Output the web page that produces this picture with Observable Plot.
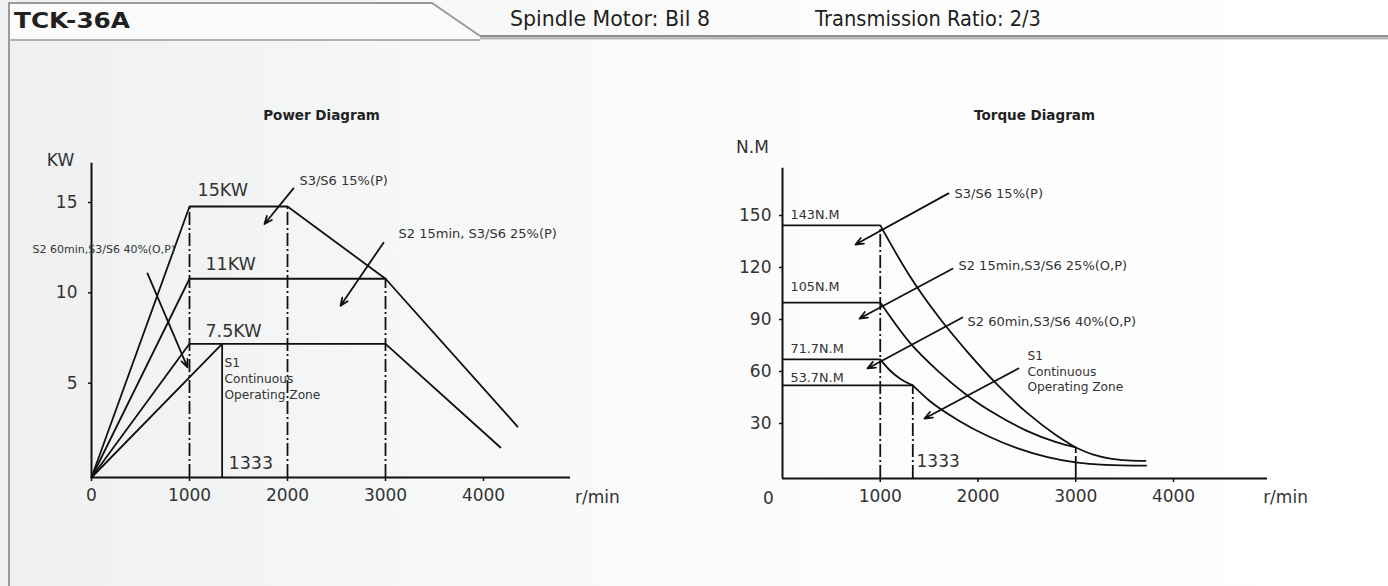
<!DOCTYPE html>
<html><head><meta charset="utf-8">
<script src="https://cdn.jsdelivr.net/npm/d3@7"></script>
<script src="https://cdn.jsdelivr.net/npm/@observablehq/plot@0.6"></script>
<style>
html,body{margin:0;padding:0;}
body{width:1388px;height:586px;overflow:hidden;position:relative;
 background:linear-gradient(90deg,#eef0f1 0%,#f6f7f7 30%,#fcfcfc 60%,#fff 100%);
 font-family:"DejaVu Sans",Verdana,sans-serif;}
#header{position:absolute;left:0;top:0;}
#power{position:absolute;left:0;top:0;}
#torque{position:absolute;left:694px;top:0;}
</style></head><body>
<svg id="header" width="1388" height="586">
  <polygon points="9,3 432,3 480,37 480,40 9,40" fill="#fbfbfb"/>
  <path d="M9,586 V3 H432 L480,36" fill="none" stroke="#9a9a9a" stroke-width="2"/>
  <rect x="480" y="35" width="908" height="2.5" fill="#8f8f8f"/>
  <rect x="480" y="37.5" width="908" height="2" fill="#b8b8b8"/>
  <line x1="9" y1="40" x2="480" y2="40" stroke="#b0b0b0" stroke-width="2"/>
  <text id="hTitle" x="14" y="28" font-size="22" font-weight="bold" fill="#231f20" textLength="116" lengthAdjust="spacingAndGlyphs"></text>
  <text id="hMotor" x="510" y="26" font-size="21" fill="#231f20" textLength="200" lengthAdjust="spacingAndGlyphs"></text>
  <text id="hRatio" x="815" y="26" font-size="21" fill="#231f20" textLength="226" lengthAdjust="spacingAndGlyphs"></text>
</svg>
<div id="power"></div>
<div id="torque"></div>
<script>
// ---------- header texts ----------
const modelName = "TCK-36A";
const motorText = "Spindle Motor: Bil 8";
const ratioText = "Transmission Ratio: 2/3";

// ---------- Power diagram data (rpm, kW) ----------
const powerTitle = "Power Diagram";
const pS3Rpm  = [0, 1000, 2000, 3000, 4347];
const pS3Kw   = [0, 15, 15, 11, 2.82];
const pS2aRpm = [0, 1000, 3000];
const pS2aKw  = [0, 11, 11];
const pS2bRpm = [0, 1000, 3000, 4173];
const pS2bKw  = [0, 7.4, 7.4, 1.66];
const pS1Rpm  = [0, 1333];
const pS1Kw   = [0, 7.4];
const pDashRpm = [1000, 2000, 3000];
const pDashTop = [15, 15, 11];
const pSolidRpm = [1333];
const pSolidTop = [7.4];
const pXTicks = [0, 1000, 2000, 3000, 4000];
const pYTicks = [5, 10, 15];

// ---------- Torque diagram data (rpm, N.m) ----------
const torqueTitle = "Torque Diagram";
const tFlatEnd = [1000, 1000, 1000, 1333];
const tFlatVal = [146, 101.5, 68.7, 53.7];
const tS3Rpm  = [1000, 1300, 1600, 1900, 2200, 2500, 2800, 3000];
const tS3Nm   = [146, 117, 93, 72.5, 54, 38, 25, 17.9];
const tTailRpm = [3000, 3180, 3355, 3530, 3714];
const tTailNm  = [17.9, 13.8, 11.5, 10.5, 10.2];
const tS2aRpm = [1000, 1300, 1600, 1900, 2200, 2500, 2800, 3000];
const tS2aNm  = [101.5, 78.5, 61.5, 47.5, 36.5, 27.5, 21, 17.9];
const tS2bRpm = [1000, 1100, 1200, 1333];
const tS2bNm  = [68.7, 62.3, 57.7, 53.7];
const tS1Rpm  = [1333, 1500, 1800, 2100, 2400, 2700, 3000, 3300, 3720];
const tS1Nm   = [53.7, 45, 33.5, 24.5, 17.5, 12.5, 9.3, 7.9, 7.4];
const tDashRpm = [1000, 1333];
const tDashTop = [146, 53.7];
const tLongRpm = [3000];
const tLongTop = [17.9];
const tXTicks = [1000, 2000, 3000, 4000];
const tYTicks = [30, 60, 90, 120, 150];

// ---------- annotation texts ----------
const pBigLabels = ["15KW", "11KW", "7.5KW", "1333"];
const pNotes = ["S3/S6 15%(P)", "S2 15min, S3/S6 25%(P)", "S2 60min,S3/S6 40%(O,P)"];
const s1Note = "S1\nContinuous\nOperating Zone";
const tValueLabels = ["143N.M", "105N.M", "71.7N.M", "53.7N.M"];
const tNotes = ["S3/S6 15%(P)", "S2 15min,S3/S6 25%(O,P)", "S2 60min,S3/S6 40%(O,P)"];

document.getElementById("hTitle").textContent = modelName;
document.getElementById("hMotor").textContent = motorText;
document.getElementById("hRatio").textContent = ratioText;

// ---------- helpers ----------
const rows = (name, xs, ys) => xs.map((x, i) => ({s: name, x, y: ys[i]}));
const INK = "#111";
const TXT = "#333";
const lw = 1.8;
const dashDot = "13,3,2,3";
const fmt = d => String(d);

// annotation anchor positions (data coordinates)
const pLabelPos = [[1082, 15.9], [1163, 11.8], [1163, 8.08], [1398, 0.77]];
const pNotePos = [[2122, 16.4], [3133, 13.5], [-602, 12.6]];
const pArrows = [
  {x1: 2061, y1: 16.0, x2: 1765, y2: 14.03},
  {x1: 2980, y1: 13.0, x2: 2541, y2: 9.5},
  {x1: 571, y1: 11.3, x2: 980, y2: 6.1}
];
const tLabelPos = [[82, 152], [82, 110.8], [82, 75], [82, 58.3]];
const tNotePos = [[1760, 164.5], [1800, 122.9], [1893, 90.6]];
const tArrows = [
  {x1: 1698, y1: 164.5, x2: 747, y2: 135},
  {x1: 1739, y1: 121, x2: 788, y2: 92.3},
  {x1: 1841, y1: 92.9, x2: 870, y2: 63.5},
  {x1: 2414, y1: 63.5, x2: 1453, y2: 34.6}
];

// ---------- Power plot ----------
const powerLines = [
  ...rows("S3/S6 15%", pS3Rpm, pS3Kw),
  ...rows("S2 15min", pS2aRpm, pS2aKw),
  ...rows("S2 60min", pS2bRpm, pS2bKw),
  ...rows("S1", pS1Rpm, pS1Kw)
];
const power = Plot.plot({
  width: 694, height: 586,
  marginLeft: 91, marginRight: 211, marginTop: 206, marginBottom: 109,
  x: {domain: [0, 4000]},
  y: {domain: [0, 15]},
  style: {background: "transparent", fontFamily: "DejaVu Sans, Verdana, sans-serif", color: TXT},
  marks: [
    Plot.ruleX(pDashRpm.map((x, i) => ({x, top: pDashTop[i]})), {x: "x", y1: 0, y2: "top", stroke: INK, strokeWidth: lw, strokeDasharray: dashDot}),
    Plot.ruleX(pSolidRpm.map((x, i) => ({x, top: pSolidTop[i]})), {x: "x", y1: 0, y2: "top", stroke: INK, strokeWidth: lw}),
    Plot.line(powerLines, {x: "x", y: "y", z: "s", stroke: INK, strokeWidth: lw}),
    Plot.ruleY([0], {x1: 0, x2: 4888, stroke: INK, strokeWidth: 2}),
    Plot.ruleX([0], {y1: 0, y2: 17.4, stroke: INK, strokeWidth: 2}),
    Plot.axisX(pXTicks, {anchor: "bottom", tickSize: 4, tickPadding: 7, fontSize: 17, stroke: INK, strokeWidth: 1.5, tickFormat: fmt}),
    Plot.axisY(pYTicks, {anchor: "left", tickSize: 3, tickPadding: 11, fontSize: 17, stroke: INK, strokeWidth: 1.5, dy: -4, tickFormat: fmt}),
    Plot.text(["KW"], {x: -316, y: 17.54, fontSize: 17, fill: TXT}),
    Plot.text(["r/min"], {x: 5163, y: -1.1, fontSize: 17, fill: TXT}),
    Plot.text([powerTitle], {x: 2347, y: 20.03, fontSize: 13.5, fontWeight: "bold", fill: "#222"}),
    Plot.text(pBigLabels.map((t, i) => ({t, x: pLabelPos[i][0], y: pLabelPos[i][1]})), {x: "x", y: "y", text: "t", textAnchor: "start", fontSize: 17.5, fill: TXT}),
    Plot.text(pNotes.map((t, i) => ({t, x: pNotePos[i][0], y: pNotePos[i][1], f: i === 2 ? 11 : 13})), {x: "x", y: "y", text: "t", textAnchor: "start", fontSize: d => d.f, fill: TXT}),
    Plot.text([s1Note], {x: 1357, y: 6.75, textAnchor: "start", lineAnchor: "top", lineHeight: 1.3, fontSize: 12.2, fill: TXT}),
    Plot.arrow(pArrows, {x1: "x1", y1: "y1", x2: "x2", y2: "y2", stroke: INK, strokeWidth: 1.8, headLength: 7, headAngle: 45})
  ]
});
document.getElementById("power").appendChild(power);

// ---------- Torque plot ----------
const torqueLines = [
  ...rows("S3/S6 15%", tS3Rpm, tS3Nm),
  ...rows("tail", tTailRpm, tTailNm),
  ...rows("S2 15min", tS2aRpm, tS2aNm),
  ...rows("S2 60min", tS2bRpm, tS2bNm),
  ...rows("S1", tS1Rpm, tS1Nm)
];
const torqueFlats = tFlatEnd.map((x2, i) => ({x2, y: tFlatVal[i]}));
const torque = Plot.plot({
  width: 694, height: 586,
  marginLeft: 88, marginRight: 215, marginTop: 218, marginBottom: 108,
  x: {domain: [0, 4000]},
  y: {domain: [0, 150]},
  style: {background: "transparent", fontFamily: "DejaVu Sans, Verdana, sans-serif", color: TXT},
  marks: [
    Plot.ruleX(tDashRpm.map((x, i) => ({x, top: tDashTop[i]})), {x: "x", y1: 0, y2: "top", stroke: INK, strokeWidth: lw, strokeDasharray: dashDot}),
    Plot.ruleX(tLongRpm.map((x, i) => ({x, top: tLongTop[i]})), {x: "x", y1: 0, y2: "top", stroke: INK, strokeWidth: lw, strokeDasharray: "22,3"}),
    Plot.ruleY(torqueFlats, {x1: 0, x2: "x2", y: "y", stroke: INK, strokeWidth: lw}),
    Plot.line(torqueLines, {x: "x", y: "y", z: "s", stroke: INK, strokeWidth: lw, curve: "monotone-x"}),
    Plot.ruleY([0], {x1: 0, x2: 4962, stroke: INK, strokeWidth: 2}),
    Plot.ruleX([0], {y1: 0, y2: 179, stroke: INK, strokeWidth: 2}),
    Plot.axisX(tXTicks, {anchor: "bottom", tickSize: 4, tickPadding: 7, fontSize: 17, stroke: INK, strokeWidth: 1.5, tickFormat: fmt}),
    Plot.text(["0"], {x: 0, y: 0, dx: -14, dy: 20, fontSize: 17, fill: TXT}),
    Plot.axisY(tYTicks, {anchor: "left", tickSize: 3, tickPadding: 8, fontSize: 17, stroke: INK, strokeWidth: 1.5, dy: -3, tickFormat: fmt}),
    Plot.text(["N.M"], {x: -307, y: 191, fontSize: 17, fill: TXT}),
    Plot.text(["r/min"], {x: 5146, y: -11, fontSize: 17, fill: TXT}),
    Plot.text([torqueTitle], {x: 2578, y: 209.5, fontSize: 13.5, fontWeight: "bold", fill: "#222"}),
    Plot.text(tValueLabels.map((t, i) => ({t, x: tLabelPos[i][0], y: tLabelPos[i][1]})), {x: "x", y: "y", text: "t", textAnchor: "start", fontSize: 12.8, fill: TXT}),
    Plot.text(["1333"], {x: 1371, y: 9.8, textAnchor: "start", fontSize: 17, fill: TXT}),
    Plot.text(tNotes.map((t, i) => ({t, x: tNotePos[i][0], y: tNotePos[i][1]})), {x: "x", y: "y", text: "t", textAnchor: "start", fontSize: 13, fill: TXT}),
    Plot.text([s1Note], {x: 2506, y: 75, textAnchor: "start", lineAnchor: "top", lineHeight: 1.3, fontSize: 12.2, fill: TXT}),
    Plot.arrow(tArrows, {x1: "x1", y1: "y1", x2: "x2", y2: "y2", stroke: INK, strokeWidth: 1.8, headLength: 7, headAngle: 45})
  ]
});
document.getElementById("torque").appendChild(torque);
</script>
</body></html>
